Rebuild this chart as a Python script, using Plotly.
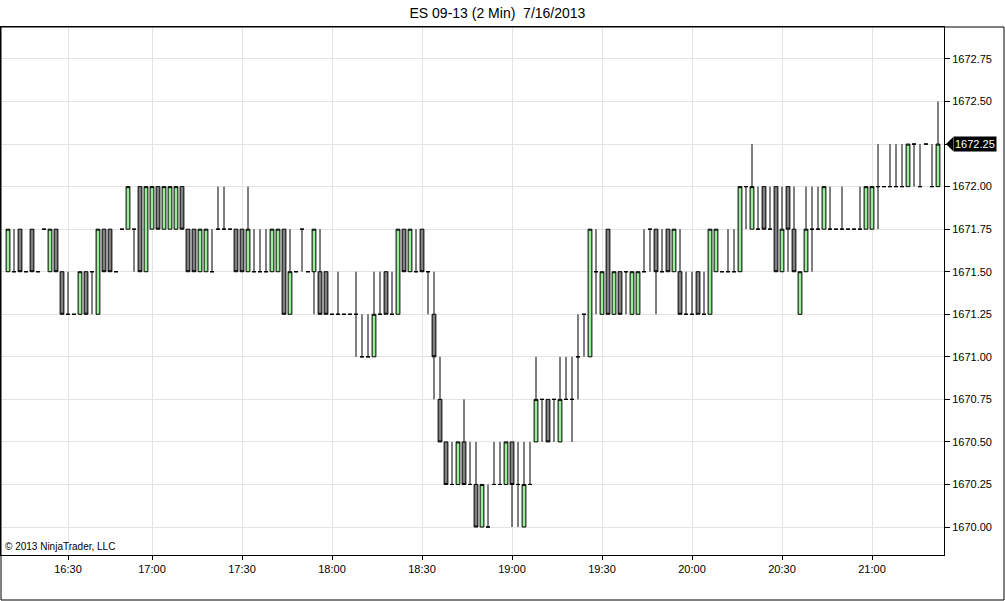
import plotly.graph_objects as go
import pandas as pd

# ---- data (2-minute bars, ES 09-13, 7/16/2013) ----
# bar times: regular 2-minute stamps, one quiet interval (16:46) without a bar
times = [t.strftime("%H:%M") for t in pd.date_range("2013-07-16 16:10", "2013-07-16 21:22", freq="2min")
         if t.strftime("%H:%M") != "16:46"]

opens = [
    1671.5, 1671.5, 1671.75, 1671.5, 1671.75, 1671.5, 1671.75, 1671.5, 1671.75, 1671.5,
    1671.25, 1671.25, 1671.25, 1671.5, 1671.5, 1671.25, 1671.75, 1671.75, 1671.5, 1671.75,
    1671.75, 1671.75, 1672.0, 1671.5, 1671.75, 1672.0, 1671.75, 1671.75, 1671.75, 1672.0,
    1671.75, 1671.75, 1671.5, 1671.5, 1671.5, 1671.75, 1671.75, 1671.75, 1671.75, 1671.75,
    1671.5, 1671.5, 1671.5, 1671.5, 1671.5, 1671.5, 1671.75, 1671.25, 1671.5, 1671.75,
    1671.5, 1671.5, 1671.5, 1671.5, 1671.25, 1671.25, 1671.25, 1671.25, 1671.25, 1671.0,
    1671.0, 1671.0, 1671.25, 1671.5, 1671.25, 1671.25, 1671.75, 1671.5, 1671.5, 1671.75,
    1671.5, 1671.25, 1670.75, 1670.5, 1670.25, 1670.25, 1670.5, 1670.25, 1670.25, 1670.0,
    1670.0, 1670.25, 1670.25, 1670.25, 1670.5, 1670.25, 1670.0, 1670.25, 1670.5, 1670.75,
    1670.75, 1670.75, 1670.5, 1670.75, 1670.75, 1671.0, 1671.25, 1671.0, 1671.5, 1671.25,
    1671.75, 1671.25, 1671.5, 1671.5, 1671.25, 1671.25, 1671.5, 1671.75, 1671.75, 1671.5,
    1671.75, 1671.5, 1671.5, 1671.25, 1671.25, 1671.5, 1671.25, 1671.25, 1671.5, 1671.5,
    1671.5, 1671.5, 1671.5, 1672.0, 1671.75, 1671.75, 1672.0, 1671.75, 1672.0, 1671.5,
    1672.0, 1671.75, 1671.25, 1671.5, 1671.75, 1671.75, 1671.75, 1671.75, 1671.75, 1671.75,
    1671.75, 1671.75, 1671.75, 1671.75, 1671.75, 1672.0, 1672.0, 1672.0, 1672.0, 1672.0,
    1672.0, 1672.25, 1672.0, 1672.25, 1672.0, 1672.0,
]
highs = [
    1671.75, 1671.75, 1671.75, 1671.5, 1671.75, 1671.5, 1671.75, 1671.75, 1671.75, 1671.5,
    1671.5, 1671.25, 1671.5, 1671.5, 1671.5, 1671.75, 1671.75, 1671.75, 1671.5, 1671.75,
    1672.0, 1671.75, 1672.0, 1672.0, 1672.0, 1672.0, 1672.0, 1672.0, 1672.0, 1672.0,
    1671.75, 1671.75, 1671.75, 1671.75, 1671.75, 1672.0, 1672.0, 1671.75, 1671.75, 1671.75,
    1672.0, 1671.75, 1671.75, 1671.75, 1671.75, 1671.75, 1671.75, 1671.75, 1671.5, 1671.75,
    1671.5, 1671.75, 1671.75, 1671.5, 1671.25, 1671.5, 1671.25, 1671.25, 1671.5, 1671.25,
    1671.25, 1671.5, 1671.5, 1671.5, 1671.5, 1671.75, 1671.75, 1671.75, 1671.75, 1671.75,
    1671.5, 1671.5, 1671.0, 1670.5, 1670.5, 1670.5, 1670.75, 1670.5, 1670.5, 1670.25,
    1670.25, 1670.5, 1670.5, 1670.5, 1670.5, 1670.5, 1670.5, 1670.5, 1671.0, 1670.75,
    1670.75, 1670.75, 1671.0, 1671.0, 1671.0, 1671.25, 1671.25, 1671.75, 1671.75, 1671.5,
    1671.75, 1671.5, 1671.5, 1671.5, 1671.5, 1671.5, 1671.75, 1671.75, 1671.75, 1671.75,
    1671.75, 1671.75, 1671.75, 1671.5, 1671.5, 1671.5, 1671.5, 1671.75, 1671.75, 1671.5,
    1671.75, 1671.75, 1672.0, 1672.0, 1672.25, 1672.0, 1672.0, 1672.0, 1672.0, 1672.0,
    1672.0, 1672.0, 1671.5, 1672.0, 1672.0, 1672.0, 1672.0, 1672.0, 1671.75, 1672.0,
    1671.75, 1671.75, 1672.0, 1672.0, 1672.0, 1672.25, 1672.0, 1672.25, 1672.25, 1672.25,
    1672.25, 1672.25, 1672.25, 1672.25, 1672.25, 1672.5,
]
lows = [
    1671.5, 1671.5, 1671.5, 1671.5, 1671.5, 1671.5, 1671.75, 1671.5, 1671.5, 1671.25,
    1671.25, 1671.25, 1671.25, 1671.25, 1671.25, 1671.25, 1671.5, 1671.5, 1671.5, 1671.75,
    1671.75, 1671.5, 1671.5, 1671.5, 1671.75, 1671.75, 1671.75, 1671.75, 1671.75, 1671.75,
    1671.5, 1671.5, 1671.5, 1671.5, 1671.5, 1671.75, 1671.75, 1671.75, 1671.5, 1671.5,
    1671.5, 1671.5, 1671.5, 1671.5, 1671.5, 1671.5, 1671.25, 1671.25, 1671.5, 1671.5,
    1671.5, 1671.25, 1671.25, 1671.25, 1671.25, 1671.25, 1671.25, 1671.25, 1671.0, 1671.0,
    1671.0, 1671.0, 1671.25, 1671.25, 1671.25, 1671.25, 1671.5, 1671.5, 1671.5, 1671.5,
    1671.25, 1670.75, 1670.5, 1670.25, 1670.25, 1670.25, 1670.25, 1670.25, 1670.0, 1670.0,
    1670.0, 1670.25, 1670.25, 1670.25, 1670.0, 1670.0, 1670.0, 1670.25, 1670.5, 1670.5,
    1670.5, 1670.5, 1670.5, 1670.75, 1670.5, 1670.75, 1671.0, 1671.0, 1671.25, 1671.25,
    1671.25, 1671.25, 1671.25, 1671.25, 1671.25, 1671.25, 1671.5, 1671.5, 1671.25, 1671.5,
    1671.5, 1671.5, 1671.25, 1671.25, 1671.25, 1671.25, 1671.25, 1671.25, 1671.5, 1671.5,
    1671.5, 1671.5, 1671.5, 1671.75, 1671.75, 1671.75, 1671.75, 1671.75, 1671.5, 1671.5,
    1671.5, 1671.5, 1671.25, 1671.5, 1671.5, 1671.75, 1671.75, 1671.75, 1671.75, 1671.75,
    1671.75, 1671.75, 1671.75, 1671.75, 1671.75, 1671.75, 1672.0, 1672.0, 1672.0, 1672.0,
    1672.0, 1672.0, 1672.0, 1672.25, 1672.0, 1672.0,
]
closes = [
    1671.75, 1671.5, 1671.5, 1671.5, 1671.5, 1671.5, 1671.75, 1671.75, 1671.5, 1671.25,
    1671.25, 1671.25, 1671.5, 1671.25, 1671.5, 1671.75, 1671.5, 1671.5, 1671.5, 1671.75,
    1672.0, 1671.75, 1671.5, 1672.0, 1672.0, 1671.75, 1672.0, 1672.0, 1672.0, 1671.75,
    1671.5, 1671.5, 1671.75, 1671.75, 1671.5, 1671.75, 1671.75, 1671.75, 1671.5, 1671.5,
    1671.75, 1671.5, 1671.5, 1671.5, 1671.75, 1671.75, 1671.25, 1671.5, 1671.5, 1671.75,
    1671.5, 1671.75, 1671.25, 1671.25, 1671.25, 1671.25, 1671.25, 1671.25, 1671.25, 1671.0,
    1671.0, 1671.25, 1671.25, 1671.25, 1671.25, 1671.75, 1671.5, 1671.75, 1671.5, 1671.5,
    1671.5, 1671.0, 1670.5, 1670.25, 1670.25, 1670.5, 1670.25, 1670.25, 1670.0, 1670.25,
    1670.0, 1670.25, 1670.25, 1670.5, 1670.25, 1670.25, 1670.25, 1670.25, 1670.75, 1670.75,
    1670.5, 1670.75, 1670.75, 1670.75, 1670.75, 1671.0, 1671.25, 1671.75, 1671.5, 1671.5,
    1671.25, 1671.5, 1671.25, 1671.5, 1671.5, 1671.5, 1671.5, 1671.75, 1671.5, 1671.5,
    1671.5, 1671.75, 1671.25, 1671.25, 1671.25, 1671.25, 1671.25, 1671.75, 1671.75, 1671.5,
    1671.5, 1671.5, 1672.0, 1672.0, 1672.0, 1671.75, 1671.75, 1671.75, 1671.5, 1671.75,
    1671.75, 1671.5, 1671.5, 1671.75, 1671.75, 1671.75, 1672.0, 1671.75, 1671.75, 1671.75,
    1671.75, 1671.75, 1671.75, 1672.0, 1672.0, 1672.0, 1672.0, 1672.0, 1672.0, 1672.0,
    1672.25, 1672.25, 1672.0, 1672.25, 1672.0, 1672.25,
]

time_ticks = ["16:30", "17:00", "17:30", "18:00", "18:30", "19:00", "19:30", "20:00", "20:30", "21:00"]
price_ticks = [1670.0, 1670.25, 1670.5, 1670.75, 1671.0, 1671.25, 1671.5, 1671.75, 1672.0, 1672.25, 1672.5, 1672.75]

title_text = "ES 09-13 (2 Min)\u00a0 7/16/2013"
copyright_text = "© 2013 NinjaTrader, LLC"

FONT = "Arial, 'Liberation Sans', sans-serif"
UP_FILL = "#98EE98"
DOWN_FILL = "#808080"
GRID = "#e3e3e3"

last_price = closes[-1]

fig = go.Figure()
fig.add_trace(go.Candlestick(
    x=times, open=opens, high=highs, low=lows, close=closes,
    increasing=dict(fillcolor=UP_FILL, line=dict(color="black", width=1)),
    decreasing=dict(fillcolor=DOWN_FILL, line=dict(color="black", width=1)),
    whiskerwidth=0, showlegend=False,
))

# the last-price marker covers the axis label at the same level
tick_labels = ["" if v == last_price else f"{v:.2f}" for v in price_ticks]

fig.update_layout(
    width=1005, height=601,
    margin=dict(l=1, r=61, t=27, b=46),
    paper_bgcolor="white", plot_bgcolor="white",
    font=dict(family=FONT, size=11, color="black"),
    boxgap=0.1,
    title=dict(text=title_text, x=0.495, xref="container", xanchor="center",
               y=1 - 13 / 601, yref="container", yanchor="middle",
               font=dict(family=FONT, size=14, color="black")),
    xaxis=dict(
        type="category", categoryorder="array", categoryarray=times,
        range=[-7 / 6, 156], rangeslider=dict(visible=False),
        tickmode="array", tickvals=time_ticks, ticktext=time_ticks,
        showgrid=True, gridcolor=GRID, gridwidth=1,
        showline=True, linecolor="black", linewidth=1, mirror=True,
        ticks="outside", ticklen=4, tickcolor="black",
        tickfont=dict(family=FONT, size=11, color="black"),
        zeroline=False, fixedrange=True,
    ),
    yaxis=dict(
        side="right", range=[1669.8355, 1672.938],
        tickmode="array", tickvals=price_ticks, ticktext=tick_labels,
        showgrid=True, gridcolor=GRID, gridwidth=1,
        showline=True, linecolor="black", linewidth=1, mirror=True,
        ticks="outside", ticklen=5, tickcolor="black",
        tickfont=dict(family=FONT, size=11, color="black"),
        zeroline=False, fixedrange=True,
    ),
    shapes=[
        # outer frame of the chart window
        dict(type="rect", xref="paper", yref="paper",
             x0=0, x1=1003 / 943, y0=-45 / 528, y1=1,
             line=dict(color="black", width=1), fillcolor="rgba(0,0,0,0)", layer="above"),
        # pointer of the last-price marker
        dict(type="path", xref="paper", yref="y",
             path=f"M 1.0021 {last_price} L 1.0098 {last_price + 0.042} L 1.0098 {last_price - 0.042} Z",
             fillcolor="black", line=dict(color="black", width=0), layer="above"),
    ],
    annotations=[
        dict(text=f"{last_price:.2f}", xref="paper", yref="y", x=1.0095, y=last_price,
             xanchor="left", yanchor="middle", showarrow=False, bgcolor="black",
             font=dict(family=FONT, size=11, color="white"), borderpad=1),
        dict(text=copyright_text, xref="paper", yref="paper", x=0, y=0,
             xanchor="left", yanchor="bottom", xshift=2, yshift=1, showarrow=False,
             font=dict(family=FONT, size=10, color="black")),
    ],
)

fig.write_html("out.html", config={"displayModeBar": False},
               post_script="document.body.style.margin='0';document.body.style.padding='0';")
